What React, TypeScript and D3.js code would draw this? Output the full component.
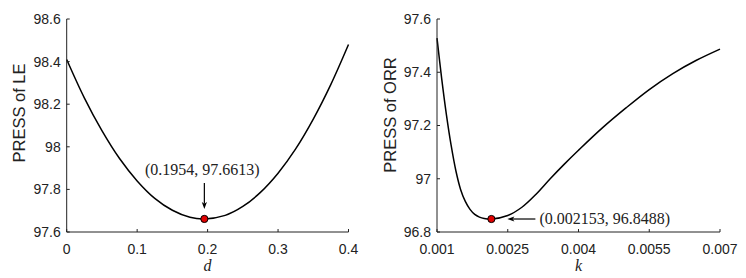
import React from "react";
import * as d3 from "d3";

// ---- Data ----
const dValues = [0, 0.025, 0.05, 0.075, 0.1, 0.125, 0.15, 0.175, 0.1954, 0.225, 0.25, 0.275, 0.3, 0.325, 0.35, 0.375, 0.4];
const lePress = [98.41, 98.23, 98.076, 97.945, 97.84, 97.758, 97.702, 97.669, 97.6613, 97.678, 97.72, 97.786, 97.876, 97.99, 98.13, 98.293, 98.48];

const kValues = [0.001, 0.0011, 0.0012, 0.0013, 0.0014, 0.0015, 0.0016, 0.0017, 0.0018, 0.0019, 0.002, 0.002153, 0.0025, 0.0028, 0.0031, 0.0034, 0.0037, 0.004, 0.0045, 0.005, 0.0055, 0.006, 0.0065, 0.007];
const orrPress = [97.528, 97.375, 97.24, 97.125, 97.03, 96.96, 96.915, 96.885, 96.866, 96.856, 96.851, 96.8488, 96.862, 96.893, 96.942, 97.0, 97.055, 97.107, 97.19, 97.265, 97.335, 97.395, 97.445, 97.487];

const leXTicks = [0, 0.1, 0.2, 0.3, 0.4];
const leYTicks = [97.6, 97.8, 98, 98.2, 98.4, 98.6];
const orrXTicks = [0.001, 0.0025, 0.004, 0.0055, 0.007];
const orrYTicks = [96.8, 97, 97.2, 97.4, 97.6];

const leMin = { x: 0.1954, y: 97.6613, label: "(0.1954, 97.6613)" };
const orrMin = { x: 0.002153, y: 96.8488, label: "(0.002153, 96.8488)" };

const SANS = "'Liberation Sans', Arial, sans-serif";
const SERIF = "'Liberation Serif', 'Times New Roman', serif";
const INK = "#222";

type PanelProps = {
  left: number;
  right: number;
  top: number;
  bottom: number;
  xDomain: [number, number];
  yDomain: [number, number];
  xs: number[];
  ys: number[];
  xTicks: number[];
  yTicks: number[];
  yLabel: string;
  xLabel: string;
  yLabelX: number;
  yLabelY: number;
  min: { x: number; y: number; label: string };
  annot: "above" | "right";
};

function Arrow({ x1, y1, x2, y2 }: { x1: number; y1: number; x2: number; y2: number }) {
  const ang = Math.atan2(y2 - y1, x2 - x1);
  const L = 7;
  const W = 2.6;
  const bx = x2 - L * Math.cos(ang);
  const by = y2 - L * Math.sin(ang);
  const px = -Math.sin(ang) * W;
  const py = Math.cos(ang) * W;
  const mx = x2 - (L * 0.75) * Math.cos(ang);
  const my = y2 - (L * 0.75) * Math.sin(ang);
  return (
    <g>
      <line x1={x1} y1={y1} x2={mx} y2={my} stroke="#000" strokeWidth={1.2} />
      <path
        d={`M${x2},${y2} L${bx + px},${by + py} L${mx},${my} L${bx - px},${by - py} Z`}
        fill="#000"
      />
    </g>
  );
}

function Panel(p: PanelProps) {
  const x = d3.scaleLinear().domain(p.xDomain).range([p.left, p.right]);
  const y = d3.scaleLinear().domain(p.yDomain).range([p.bottom, p.top]);
  const line = d3
    .line<number>()
    .x((_, i) => x(p.xs[i]))
    .y((v) => y(v))
    .curve(d3.curveCatmullRom.alpha(0.5));
  const path = line(p.ys) || "";
  const mx = x(p.min.x);
  const my = y(p.min.y);
  return (
    <g>
      <path d={path} fill="none" stroke="#000" strokeWidth={1.5} />
      {/* axes */}
      <line x1={p.left} y1={p.top} x2={p.left} y2={p.bottom} stroke={INK} strokeWidth={1} />
      <line x1={p.left} y1={p.bottom} x2={p.right} y2={p.bottom} stroke={INK} strokeWidth={1} />
      {p.yTicks.map((t) => (
        <g key={"y" + t}>
          <line x1={p.left} x2={p.left + 3} y1={y(t)} y2={y(t)} stroke={INK} />
          <text x={p.left - 6} y={y(t)} dy="0.35em" textAnchor="end" fontFamily={SANS} fontSize={14} fill={INK}>
            {String(t)}
          </text>
        </g>
      ))}
      {p.xTicks.map((t) => (
        <g key={"x" + t}>
          <line x1={x(t)} x2={x(t)} y1={p.bottom} y2={p.bottom - 3} stroke={INK} />
          <text x={x(t)} y={p.bottom + 22} textAnchor="middle" fontFamily={SANS} fontSize={14} fill={INK}>
            {String(t)}
          </text>
        </g>
      ))}
      <text
        x={(p.left + p.right) / 2}
        y={271}
        textAnchor="middle"
        fontFamily={SERIF}
        fontStyle="italic"
        fontSize={16}
        fill={INK}
      >
        {p.xLabel}
      </text>
      <text
        transform={`translate(${p.yLabelX},${p.yLabelY}) rotate(-90)`}
        textAnchor="middle"
        fontFamily={SANS}
        fontSize={16.5}
        fill={INK}
      >
        {p.yLabel}
      </text>
      {/* annotation */}
      {p.annot === "above" ? (
        <g>
          <text x={mx - 2} y={my - 44} textAnchor="middle" fontFamily={SERIF} fontSize={16} fill={INK}>
            {p.min.label}
          </text>
          <Arrow x1={mx} y1={my - 36} x2={mx} y2={my - 10} />
        </g>
      ) : (
        <g>
          <Arrow x1={mx + 44} y1={my} x2={mx + 16} y2={my} />
          <text x={mx + 48} y={my + 5} textAnchor="start" fontFamily={SERIF} fontSize={16} fill={INK}>
            {p.min.label}
          </text>
        </g>
      )}
      <circle cx={mx} cy={my} r={3.6} fill="#e00000" stroke="#000" strokeWidth={1} />
    </g>
  );
}

export default function App() {
  return (
    <div style={{ position: "absolute", left: 0, top: 0 }}>
      <svg width={746} height={278} style={{ display: "block", background: "#fff" }}>
        <Panel
          left={66.7}
          right={348.5}
          top={19}
          bottom={232}
          xDomain={[0, 0.4]}
          yDomain={[97.6, 98.6]}
          xs={dValues}
          ys={lePress}
          xTicks={leXTicks}
          yTicks={leYTicks}
          yLabel="PRESS of LE"
          xLabel="d"
          yLabelX={25}
          yLabelY={113}
          min={leMin}
          annot="above"
        />
        <Panel
          left={437}
          right={720}
          top={19}
          bottom={232}
          xDomain={[0.001, 0.007]}
          yDomain={[96.8, 97.6]}
          xs={kValues}
          ys={orrPress}
          xTicks={orrXTicks}
          yTicks={orrYTicks}
          yLabel="PRESS of ORR"
          xLabel="k"
          yLabelX={396}
          yLabelY={115}
          min={orrMin}
          annot="right"
        />
      </svg>
    </div>
  );
}
